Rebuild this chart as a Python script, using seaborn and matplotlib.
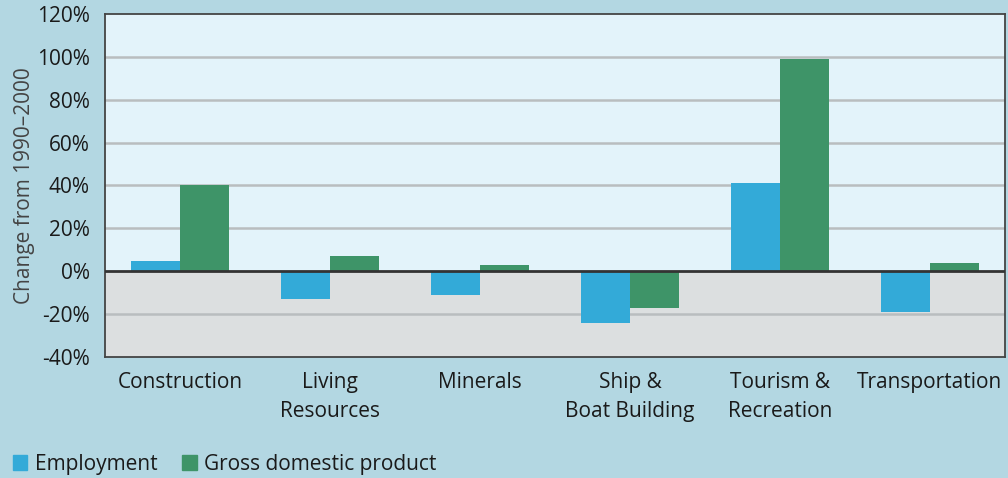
#
#   change in ocean economy sectors 1990-2000, employment vs GDP
#

import matplotlib
matplotlib.use("Agg")
import matplotlib.pyplot as plt
from matplotlib.patches import Patch
import pandas as pd
import seaborn as sns

sectors = ["Construction", "Living\nResources", "Minerals", "Ship &\nBoat Building",
           "Tourism &\nRecreation", "Transportation"]
employment = [5, -13, -11, -24, 41, -19]
gdp = [40, 7, 3, -17, 99, 4]
series = ["Employment", "Gross domestic product"]
yticks = [-40, -20, 0, 20, 40, 60, 80, 100, 120]

df = pd.DataFrame({
    "sector": sectors * 2,
    "series": [series[0]] * len(sectors) + [series[1]] * len(sectors),
    "value": employment + gdp,
})

colors = {"Employment": "#33aad8", "Gross domestic product": "#3e9468"}
outer_bg = "#b3d7e2"

sns.set_style("white")
plt.rcParams["font.family"] = ["Open Sans", "DejaVu Sans"]

fig = plt.figure(figsize=(10.08, 4.78), dpi=100, facecolor=outer_bg)
ax = fig.add_axes([0.104, 0.253, 0.893, 0.718])

ax.axhspan(0, 120, color="#e3f3fa", zorder=0)
ax.axhspan(-40, 0, color="#dcdfe0", zorder=0)
for y in yticks[1:-1]:
    if y != 0:
        ax.axhline(y, color="#b9bdbf", lw=1.8, zorder=1)

sns.barplot(data=df, x="sector", y="value", hue="series", hue_order=series,
            palette=colors, order=sectors, width=0.65, saturation=1,
            legend=False, ax=ax, zorder=2)
for p in ax.patches:
    p.set_linewidth(0)

ax.axhline(0, color="#333333", lw=2, zorder=3)

ax.set_xlim(-0.5, len(sectors) - 0.5)
ax.set_ylim(-40, 120)
ax.set_yticks(yticks)
ax.set_yticklabels([f"{v}%" for v in yticks])
ax.tick_params(axis="y", labelsize=15, colors="#1a1a1a", length=0, pad=11)
ax.tick_params(axis="x", labelsize=15, colors="#1a1a1a", length=0, pad=11)
for t in ax.get_xticklabels():
    t.set_linespacing(1.45)
ax.set_xlabel("")
ax.set_ylabel("Change from 1990\u20132000", fontsize=15, color="#444444", labelpad=1)
for s in ax.spines.values():
    s.set_color("#444444")
    s.set_linewidth(1.3)

handles = [Patch(color=colors[s], label=s) for s in series]
fig.legend(handles=handles, loc="lower left", bbox_to_anchor=(-0.006, -0.032), ncol=2,
           frameon=False, fontsize=15, handlelength=0.7, handleheight=0.7,
           handletextpad=0.35, columnspacing=1.2, labelcolor="#1a1a1a")

fig.savefig("out.png", dpi=100, facecolor=outer_bg)
